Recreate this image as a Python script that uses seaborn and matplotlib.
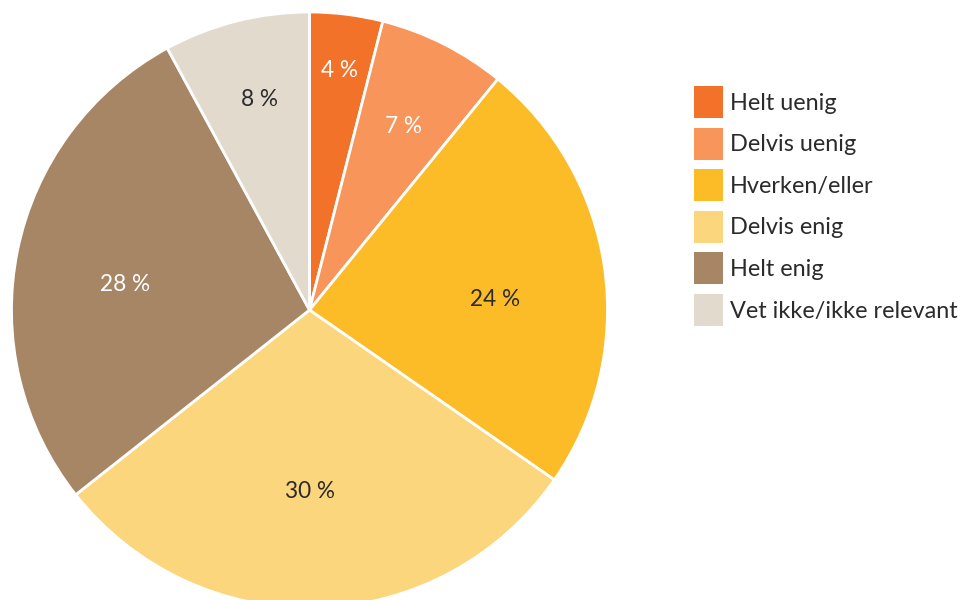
import matplotlib
matplotlib.use("Agg")
import matplotlib.pyplot as plt
import matplotlib.transforms as mtransforms
import seaborn as sns
import numpy as np
from matplotlib.patches import Patch

categories = ["Helt uenig", "Delvis uenig", "Hverken/eller", "Delvis enig",
              "Helt enig", "Vet ikke/ikke relevant"]
values = [4, 7, 24, 30, 28, 8]
colors = ["#F37229", "#F7955B", "#FCBC28", "#FCD67D", "#A78665", "#E3DACE"]
label_colors = ["white", "white", "#2B2B2B", "#2B2B2B", "white", "#2B2B2B"]
# label placement (style): radius fraction and angle nudge in degrees
label_radius = [0.82, 0.70, 0.625, 0.60, 0.625, 0.735]
label_nudge = [0.0, 0.0, -4.0, -1.5, 3.0, -1.0]

sns.set_theme(style="white")
plt.rcParams["font.family"] = ["Lato", "DejaVu Sans"]

W, H = 962, 600
fig = plt.figure(figsize=(W / 100, H / 100), dpi=100)
ax = fig.add_axes([0, 0, 1, 1])

cx, cy, R = 309.5, 310, 298
wedges, _ = ax.pie(values, colors=colors, startangle=90, counterclock=False,
                   wedgeprops=dict(edgecolor="white", linewidth=2.0),
                   radius=1.0, center=(0, 0))

txt_tr = mtransforms.offset_copy(ax.transData, fig=fig, x=0, y=-2.5, units="dots")
for w, val, tc, lr, nd in zip(wedges, values, label_colors, label_radius, label_nudge):
    ang = np.deg2rad((w.theta1 + w.theta2) / 2 + nd)
    ax.text(lr * np.cos(ang), lr * np.sin(ang), f"{val} %", ha="center",
            va="center", fontsize=16.3, color=tc, transform=txt_tr)

ax.set_aspect("auto")
ax.set_xlim(-cx / R, (W - cx) / R)
ax.set_ylim(-(H - cy) / R, cy / R)
ax.axis("off")

handles = [Patch(facecolor=c, edgecolor="none") for c in colors]
fs = 16.9
leg = fig.legend(handles, categories, loc="upper left",
                 bbox_to_anchor=(694 / W, 1 - 86 / H), frameon=False,
                 fontsize=fs, handlelength=1.23, handleheight=1.72,
                 handletextpad=0.3, labelspacing=0.41, borderpad=0,
                 borderaxespad=0, labelcolor="#2B2B2B")

fig.savefig("out.png", dpi=100)
